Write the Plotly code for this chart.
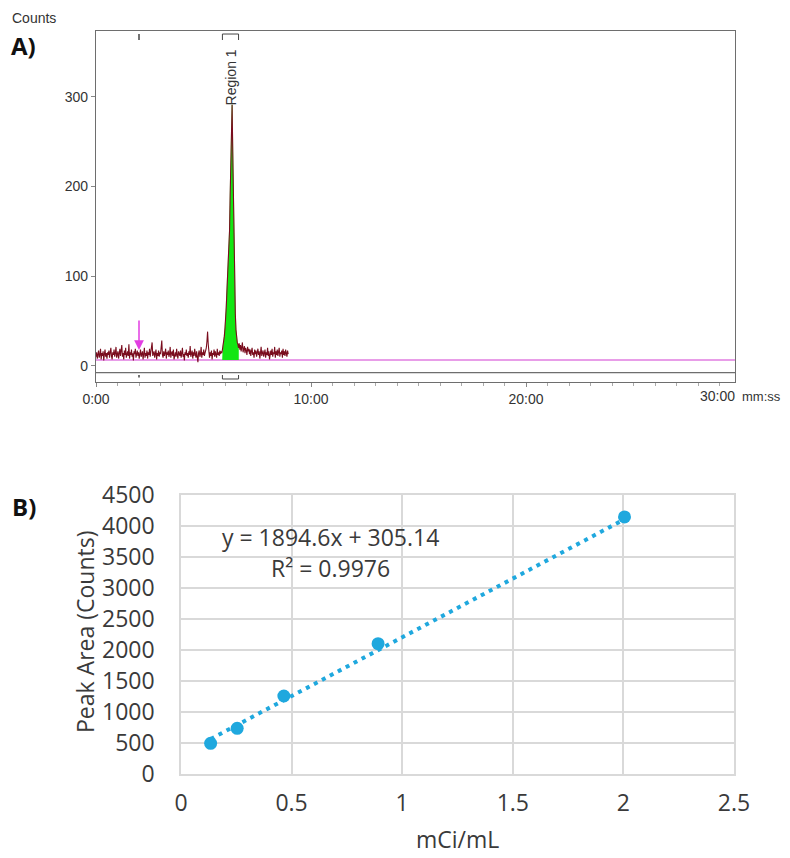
import numpy as np
import plotly.graph_objects as go

# ---------------- Panel A: radio-chromatogram ----------------
sample_start_min = 0.0
sample_step_min = 0.03
counts = [
    10, 15, 8, 13, 17, 9, 12, 19, 7, 14,
    11, 16, 6, 13, 18, 10, 14, 8, 15, 12,
    17, 9, 13, 20, 11, 7, 15, 12, 18, 10,
    14, 21, 9, 13, 16, 8, 12, 19, 11, 15,
    23, 10, 14, 7, 17, 12, 20, 9, 13, 16,
    11, 24, 8, 15, 12, 18, 10, 14, 6, 16,
    13, 19, 9, 12, 17, 11, 15, 8, 14, 18,
    10, 13, 16, 7, 12, 20, 9, 14, 11, 17,
    8, 15, 12, 19, 10, 14, 22, 26, 11, 13,
    16, 9, 12, 18, 7, 14, 11, 17, 10, 15,
    13, 20, 28, 12, 9, 16, 11, 14, 19, 8,
    15, 12, 17, 10, 13, 21, 9, 14, 16, 11,
    18, 7, 13, 15, 10, 19, 12, 8, 16, 13,
    11, 17, 9, 14, 20, 10, 13, 6, 15, 12,
    18, 11, 14, 9, 16, 12, 22, 10, 13, 17,
    8, 15, 11, 19, 13, 9, 16, 12, 4, 14,
    17, 10, 13, 21, 9, 15, 12, 18, 11, 14,
    16, 20, 27, 38, 24, 13, 9, 15, 11, 17,
    7, 14, 12, 18, 10, 16, 13, 9, 19, 12,
    15, 11, 17, 13, 16, 14,
    18, 22, 27, 33, 42, 52, 66, 84, 104, 116,
    121, 150, 190, 232, 270, 291, 240, 180, 128, 88,
    58, 40, 31, 26, 24,
    20, 25, 18, 23, 16, 21, 26, 15, 19, 22,
    14, 20, 17, 12, 21, 16, 19, 13, 18, 11,
    16, 20, 12, 15, 9, 18, 13, 17, 10, 14,
    19, 12, 16, 8, 15, 21, 11, 14, 17, 10,
    13, 18, 9, 15, 12, 20, 11, 16, 7, 14,
    17, 12, 19, 10, 15, 13, 21, 9, 16, 12,
    18, 11, 14, 20, 10, 15, 13, 17, 9, 19,
    12, 16, 11, 18, 14, 10, 17, 13,
]
baseline_counts = 6.4
region_start_min = 5.88
region_end_min = 6.63
injection_min = 2.0
a_x_range = [0, 29.72]
a_y_range = [-17.8, 373.3]
a_tickvals = [0, 10, 20]
a_ticktext = ["0:00", "10:00", "20:00"]
a_y_ticks = [0, 100, 200, 300]

# ---------------- Panel B: calibration ----------------
conc = [0.134, 0.254, 0.465, 0.891, 2.005]
peak_area = [490, 732, 1253, 2097, 4141]
slope = 1894.6
intercept = 305.14
r_squared = 0.9976

# page has an 8px body margin: figure is sized to fill the rest of the window
OFF = 8
W, H = 790 - OFF, 858 - OFF
def px(x):
    return (x - OFF) / W
def py(y):
    return 1 - (y - OFF) / H

t = sample_start_min + sample_step_min * np.arange(len(counts))
c = np.array(counts, dtype=float)

fig = go.Figure()

fig.add_trace(go.Scatter(x=a_x_range, y=[baseline_counts, baseline_counts], mode="lines",
                         line=dict(color="#e07ce0", width=1.5), xaxis="x", yaxis="y",
                         hoverinfo="skip", showlegend=False))

mask = (t >= region_start_min - 1e-9) & (t <= region_end_min + 1e-9)
rx = t[mask]
ry = c[mask]
gx = [rx[0]] + list(rx) + [rx[-1]]
gy = [baseline_counts] + list(ry) + [baseline_counts]
fig.add_trace(go.Scatter(x=gx, y=gy, mode="lines", fill="toself", fillcolor="#12e612",
                         line=dict(color="#12e612", width=0.5), xaxis="x", yaxis="y",
                         hoverinfo="skip", showlegend=False))

fig.add_trace(go.Scatter(x=t, y=c, mode="lines", line=dict(color="#7a0d1e", width=1.1),
                         xaxis="x", yaxis="y", showlegend=False))

x_fit = np.array([min(conc), max(conc)])
y_fit = slope * x_fit + intercept
fig.add_trace(go.Scatter(x=x_fit, y=y_fit, mode="lines",
                         line=dict(color="#1fa8de", width=4, dash="4px,5px"),
                         xaxis="x2", yaxis="y2", showlegend=False))
fig.add_trace(go.Scatter(x=conc, y=peak_area, mode="markers",
                         marker=dict(color="#1fa8de", size=13),
                         xaxis="x2", yaxis="y2", showlegend=False))

a_font = dict(family="Liberation Sans", size=14, color="#333333")
b_font = dict(family="Open Sans", size=23, color="#3a3a3a")

shapes = []
line_gray = dict(color="#6e6e6e", width=1.3)
shapes.append(dict(type="line", xref="x domain", yref="y domain", x0=0, x1=1,
                   y0=0.0257, y1=0.0257, line=line_gray))
shapes.append(dict(type="line", xref="x", yref="y domain", x0=injection_min, x1=injection_min,
                   y0=0.9914, y1=0.9743, line=dict(color="#444", width=1.5)))
shapes.append(dict(type="line", xref="x", yref="y domain", x0=injection_min, x1=injection_min,
                   y0=0.0191, y1=0.0120, line=dict(color="#444", width=1.5)))
shapes.append(dict(type="path", xref="x", yref="y domain",
                   path=f"M {region_start_min},0.0191 L {region_start_min},0.0077 L {region_end_min},0.0077 L {region_end_min},0.0191",
                   line=dict(color="#444", width=1)))
shapes.append(dict(type="path", xref="x", yref="y domain",
                   path=f"M {region_start_min},0.9743 L {region_start_min},0.9914 L {region_end_min},0.9914 L {region_end_min},0.9743",
                   line=dict(color="#444", width=1)))

annotations = [
    dict(text="Counts", x=px(10), y=py(18), xref="paper", yref="paper", xanchor="left",
         yanchor="middle", showarrow=False, font=a_font),
    dict(text="<b>A)</b>", x=px(9), y=py(46), xref="paper", yref="paper", xanchor="left",
         yanchor="middle", showarrow=False, font=dict(family="Open Sans", size=24, color="#111")),
    dict(text="<b>B)</b>", x=px(10), y=py(506), xref="paper", yref="paper", xanchor="left",
         yanchor="middle", showarrow=False, font=dict(family="Open Sans", size=24, color="#111")),
    dict(text="30:00", x=px(737), y=py(396), xref="paper", yref="paper", xanchor="right",
         yanchor="middle", showarrow=False, font=a_font),
    dict(text="mm:ss", x=px(740), y=py(396), xref="paper", yref="paper", xanchor="left",
         yanchor="middle", showarrow=False, font=dict(family="Liberation Sans", size=13, color="#333333")),
    dict(text="Region 1", x=6.30, y=322, xref="x", yref="y",
         textangle=-90, showarrow=False, xanchor="center", yanchor="middle", font=a_font),
    dict(text="", x=injection_min, y=17.5, ax=injection_min, ay=52, xref="x", yref="y",
         axref="x", ayref="y", showarrow=True, arrowhead=2, arrowsize=1.3, arrowwidth=1.5,
         arrowcolor="#e23ee2"),
    dict(text=f"y = {slope}x + {intercept}", x=px(330), y=py(537), xref="paper", yref="paper",
         xanchor="center", yanchor="middle", showarrow=False, font=b_font),
    dict(text=f"R² = {r_squared}", x=px(330), y=py(568), xref="paper", yref="paper",
         xanchor="center", yanchor="middle", showarrow=False, font=b_font),
    dict(text="Peak Area (Counts)", x=px(85), y=py(632), xref="paper", yref="paper",
         textangle=-90, xanchor="center", yanchor="middle", showarrow=False, font=b_font),
    dict(text="mCi/mL", x=px(457), y=py(857), xref="paper", yref="paper",
         xanchor="center", yanchor="bottom", showarrow=False, font=b_font),
]

fig.update_layout(
    width=W, height=H,
    margin=dict(l=0, r=0, t=0, b=0, pad=0, autoexpand=False),
    paper_bgcolor="white", plot_bgcolor="white",
    showlegend=False,
    xaxis=dict(domain=[px(96), px(735)], range=a_x_range, anchor="y", automargin=False,
               showgrid=False, zeroline=False, showline=True, mirror=True,
               linecolor="#6e6e6e", linewidth=1.3,
               tickvals=a_tickvals, ticktext=a_ticktext, ticks="outside", ticklen=4,
               tickcolor="#888", tickfont=a_font,
               minor=dict(dtick=1, tick0=0, ticks="outside", ticklen=3, tickcolor="#aaa")),
    yaxis=dict(domain=[py(381.7), py(31)], range=a_y_range, anchor="x", automargin=False,
               showgrid=False, zeroline=False, showline=True, mirror=True,
               linecolor="#6e6e6e", linewidth=1.3,
               tickvals=a_y_ticks, ticks="outside", ticklen=4, tickcolor="#888",
               tickfont=a_font),
    xaxis2=dict(domain=[px(181), px(734)], range=[0, 2.5], dtick=0.5, anchor="y2",
                automargin=False,
                showgrid=True, gridcolor="#d9d9d9", gridwidth=1.5, zeroline=False,
                showline=True, linecolor="#d9d9d9", linewidth=1.5, mirror=True,
                ticks="", tickfont=b_font, ticklabelstandoff=8),
    yaxis2=dict(domain=[py(773.7), py(494.7)], range=[0, 4500], dtick=500, anchor="x2",
                automargin=False,
                showgrid=True, gridcolor="#d9d9d9", gridwidth=1.5, zeroline=False,
                showline=True, linecolor="#d9d9d9", linewidth=1.5, mirror=True,
                ticks="", tickfont=b_font, ticklabelstandoff=20),
    shapes=shapes,
    annotations=annotations,
)

fig.write_html("out.html")
